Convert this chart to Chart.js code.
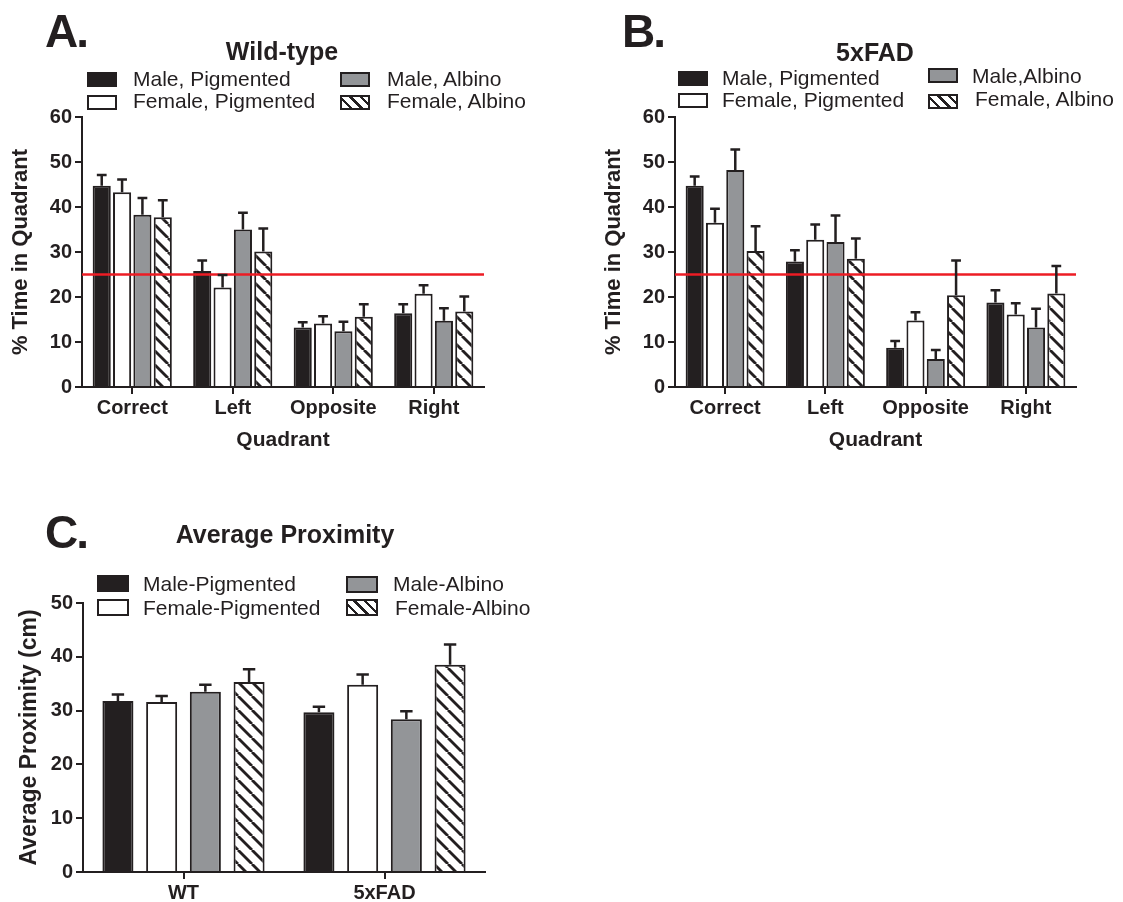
<!DOCTYPE html>
<html lang="en">
<head>
<meta charset="UTF-8">
<title>Quadrant time and average proximity</title>
<script src="https://cdn.jsdelivr.net/npm/chart.js"></script>
<style>
  body { margin: 0; background: #fff; }
  #page { position: relative; width: 1123px; height: 902px; overflow: hidden;
          font-family: "Liberation Sans", Arial, sans-serif; color: #231f20; }
  canvas { position: absolute; }
  .txt { position: absolute; white-space: nowrap; line-height: 1; }
  .letter { font-size: 46px; font-weight: bold; letter-spacing: -2px; }
  .title { font-size: 25px; font-weight: bold; transform: translateX(-50%); }
  .leg { font-size: 21px; }
  .sw { position: absolute; box-sizing: border-box; border: 2px solid #231f20; }
</style>
</head>
<body>
<div id="page">
  <canvas id="chartA" width="560" height="460" style="left:0;top:0"></canvas>
  <canvas id="chartB" width="563" height="460" style="left:560px;top:0"></canvas>
  <canvas id="chartC" width="560" height="402" style="left:0;top:500px"></canvas>
</div>
<script>
// categories
const quadrants = ['Correct', 'Left', 'Opposite', 'Right'];
const genotypes = ['WT', '5xFAD'];

// series names (as printed in each legend)
const seriesA = ['Male, Pigmented', 'Female, Pigmented', 'Male, Albino', 'Female, Albino'];
const seriesB = ['Male, Pigmented', 'Female, Pigmented', 'Male,Albino', 'Female, Albino'];
const seriesC = ['Male-Pigmented', 'Female-Pigmented', 'Male-Albino', 'Female-Albino'];

// A. wild-type, % time in quadrant (mean and SEM)
const wtMalePig      = [44.7, 25.8, 13.2, 16.4];
const wtFemalePig    = [43.3, 22.1, 14.1, 20.7];
const wtMaleAlb      = [38.3, 35.0, 12.4, 14.7];
const wtFemaleAlb    = [37.7, 30.1, 15.6, 16.8];
const wtMalePigErr   = [2.4, 2.3, 1.2, 2.0];
const wtFemalePigErr = [2.8, 2.8, 1.6, 1.9];
const wtMaleAlbErr   = [3.7, 3.7, 2.1, 2.8];
const wtFemaleAlbErr = [3.8, 5.1, 2.8, 3.3];

// B. 5xFAD, % time in quadrant (mean and SEM)
const fadMalePig      = [44.7, 27.9, 8.7, 18.8];
const fadFemalePig    = [36.5, 32.7, 14.8, 16.1];
const fadMaleAlb      = [48.2, 32.2, 6.2, 13.2];
const fadFemaleAlb    = [30.2, 28.5, 20.4, 20.8];
const fadMalePigErr   = [2.1, 2.5, 1.5, 2.7];
const fadFemalePigErr = [3.1, 3.4, 1.8, 2.5];
const fadMaleAlbErr   = [4.6, 5.9, 2.0, 4.2];
const fadFemaleAlbErr = [5.5, 4.5, 7.7, 6.1];

// C. average proximity in cm, WT and 5xFAD (mean and SEM)
const proxMalePig      = [31.8, 29.7];
const proxFemalePig    = [31.6, 34.8];
const proxMaleAlb      = [33.5, 28.4];
const proxFemaleAlb    = [35.3, 38.5];
const proxMalePigErr   = [1.2, 1.0];
const proxFemalePigErr = [1.1, 1.9];
const proxMaleAlbErr   = [1.3, 1.5];
const proxFemaleAlbErr = [2.4, 3.8];

// chance level (one quadrant of four)
const chanceLevel = 25;
const quadrantTicks = [0, 10, 20, 30, 40, 50, 60];
const proximityTicks = [0, 10, 20, 30, 40, 50];

const ink = '#231f20';
const grey = '#939598';
const font = '"Liberation Sans", Arial, sans-serif';

function hatch() {
  const p = 14;
  const c = document.createElement('canvas');
  c.width = p; c.height = p;
  const g = c.getContext('2d');
  g.fillStyle = '#fff';
  g.fillRect(0, 0, p, p);
  g.strokeStyle = ink;
  g.lineWidth = 2.8;
  [-p, 0, p].forEach(k => {
    g.beginPath();
    g.moveTo(k, 0);
    g.lineTo(k + p, p);
    g.stroke();
  });
  return g.createPattern(c, 'repeat');
}
const fills = [ink, '#ffffff', grey, hatch()];
const swatchCss = [ink, '#fff', grey,
  'repeating-linear-gradient(45deg, #fff 0 5px, #231f20 5px 7.5px)'];

const errorBars = {
  id: 'errorBars',
  afterDatasetsDraw(chart, args, opts) {
    const ctx = chart.ctx;
    const y = chart.scales.y;
    ctx.save();
    ctx.strokeStyle = ink;
    ctx.lineWidth = 2.5;
    chart.data.datasets.forEach((ds, i) => {
      chart.getDatasetMeta(i).data.forEach((bar, j) => {
        const top = y.getPixelForValue(ds.data[j] + ds.errors[j]);
        const half = bar.width * opts.cap;
        ctx.beginPath();
        ctx.moveTo(bar.x, bar.y);
        ctx.lineTo(bar.x, top);
        ctx.moveTo(bar.x - half, top);
        ctx.lineTo(bar.x + half, top);
        ctx.stroke();
      });
    });
    ctx.restore();
  }
};

const chanceLine = {
  id: 'chanceLine',
  afterDatasetsDraw(chart, args, opts) {
    if (opts.value == null) return;
    const {ctx, chartArea} = chart;
    const yy = chart.scales.y.getPixelForValue(opts.value);
    ctx.save();
    ctx.strokeStyle = '#ed1c24';
    ctx.lineWidth = 2.5;
    ctx.beginPath();
    ctx.moveTo(chartArea.left, yy);
    ctx.lineTo(chartArea.right, yy);
    ctx.stroke();
    ctx.restore();
  }
};

function axisLine() {
  return {
    grid: { display: true, drawOnChartArea: false, drawTicks: true, tickLength: 7,
            offset: false, color: ink, lineWidth: 2 },
    border: { display: true, color: ink, width: 2 }
  };
}

function barChart(id, cfg) {
  const datasets = cfg.series.map((name, i) => ({
    label: name,
    data: cfg.values[i],
    errors: cfg.errors[i],
    backgroundColor: fills[i],
    borderColor: ink,
    borderWidth: 2,
    categoryPercentage: cfg.catPct,
    barPercentage: cfg.barPct
  }));
  return new Chart(document.getElementById(id), {
    type: 'bar',
    data: { labels: cfg.labels, datasets },
    plugins: [chanceLine, errorBars],
    options: {
      responsive: false,
      animation: false,
      events: [],
      layout: { padding: cfg.padding },
      plugins: {
        legend: { display: false },
        tooltip: { enabled: false },
        errorBars: { cap: cfg.cap },
        chanceLine: { value: cfg.chance }
      },
      scales: {
        x: Object.assign(axisLine(), {
          offset: true,
          ticks: { color: ink, padding: 2, maxRotation: 0,
                   font: { family: font, size: cfg.tickSize, weight: 'bold' } },
          title: { display: !!cfg.xTitle, text: cfg.xTitle, color: ink,
                   padding: { top: 0, bottom: 0 },
                   font: { family: font, size: 21, weight: 'bold' } },
          afterFit: s => { s.height = cfg.xHeight; }
        }),
        y: Object.assign(axisLine(), {
          min: 0,
          max: cfg.ticks[cfg.ticks.length - 1],
          afterBuildTicks: s => { s.ticks = cfg.ticks.map(v => ({ value: v })); },
          ticks: { color: ink, padding: 3,
                   font: { family: font, size: cfg.tickSize, weight: 'bold' } },
          title: { display: true, text: cfg.yTitle, color: ink,
                   padding: { top: cfg.yTitlePad, bottom: 0 },
                   font: { family: font, size: cfg.yTitleSize, weight: 'bold' } },
          afterFit: s => { s.width = cfg.yWidth; }
        })
      }
    }
  });
}

barChart('chartA', {
  labels: quadrants, series: seriesA,
  values: [wtMalePig, wtFemalePig, wtMaleAlb, wtFemaleAlb],
  errors: [wtMalePigErr, wtFemalePigErr, wtMaleAlbErr, wtFemaleAlbErr],
  ticks: quadrantTicks, chance: chanceLevel,
  xTitle: 'Quadrant', yTitle: '% Time in Quadrant',
  catPct: 0.81, barPct: 0.89, cap: 0.27, tickSize: 20, yTitleSize: 22, yTitlePad: 8,
  padding: { left: 0, top: 117, right: 76, bottom: 7 }, yWidth: 82, xHeight: 66
});

barChart('chartB', {
  labels: quadrants, series: seriesB,
  values: [fadMalePig, fadFemalePig, fadMaleAlb, fadFemaleAlb],
  errors: [fadMalePigErr, fadFemalePigErr, fadMaleAlbErr, fadFemaleAlbErr],
  ticks: quadrantTicks, chance: chanceLevel,
  xTitle: 'Quadrant', yTitle: '% Time in Quadrant',
  catPct: 0.81, barPct: 0.89, cap: 0.27, tickSize: 20, yTitleSize: 22, yTitlePad: 41,
  padding: { left: 0, top: 117, right: 47, bottom: 7 }, yWidth: 115, xHeight: 66
});

barChart('chartC', {
  labels: genotypes, series: seriesC,
  values: [proxMalePig, proxFemalePig, proxMaleAlb, proxFemaleAlb],
  errors: [proxMalePigErr, proxFemalePigErr, proxMaleAlbErr, proxFemaleAlbErr],
  ticks: proximityTicks, chance: null,
  xTitle: '', yTitle: 'Average Proximity (cm)',
  catPct: 0.87, barPct: 0.71, cap: 0.2, tickSize: 20, yTitleSize: 23, yTitlePad: 16,
  padding: { left: 0, top: 103, right: 75, bottom: 0 }, yWidth: 83, xHeight: 30
});

// letters, titles and legends (HTML text)
const page = document.getElementById('page');
function text(cls, str, left, top) {
  const d = document.createElement('div');
  d.className = 'txt ' + cls;
  d.textContent = str;
  d.style.left = left + 'px';
  d.style.top = top + 'px';
  page.appendChild(d);
}
function swatch(i, x, y, w, h) {
  const d = document.createElement('div');
  d.className = 'sw';
  d.style.cssText = `left:${x}px;top:${y}px;width:${w}px;height:${h}px;background:${swatchCss[i]}`;
  page.appendChild(d);
}
// order in the 2x2 legend: column 1 = series 0,1 ; column 2 = series 2,3
function legend(series, L) {
  series.forEach((name, i) => {
    const col = i < 2 ? 0 : 1, row = i % 2;
    swatch(i, L.boxX[col], L.boxY[col][row], L.boxW, L.boxH);
    text('leg', name, L.textX[col][row], L.base[col][row] - 18);
  });
}

text('letter', 'A.', 45, 8);
text('letter', 'B.', 622, 8);
text('letter', 'C.', 45, 509);
text('title', 'Wild-type', 282, 39);
text('title', '5xFAD', 875, 40);
text('title', 'Average Proximity', 285, 522);

legend(seriesA, { boxX: [87, 340], boxY: [[72, 95], [72, 95]], boxW: 30, boxH: 15,
  textX: [[133, 133], [387, 387]], base: [[86, 108], [86, 108]] });
legend(seriesB, { boxX: [678, 928], boxY: [[71, 93], [68, 94]], boxW: 30, boxH: 15,
  textX: [[722, 722], [972, 975]], base: [[85, 107], [83, 106]] });
legend(seriesC, { boxX: [97, 346], boxY: [[575, 599], [576, 599]], boxW: 32, boxH: 17,
  textX: [[143, 143], [393, 395]], base: [[591, 615], [591, 615]] });
</script>
</body>
</html>
